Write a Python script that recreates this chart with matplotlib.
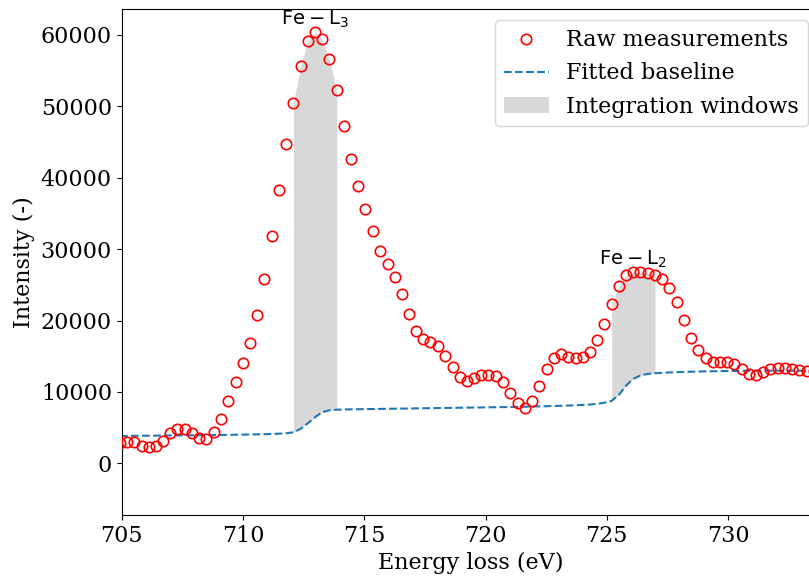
import matplotlib
matplotlib.use("Agg")
import matplotlib.pyplot as plt
import numpy as np

plt.rcParams['font.family'] = ['DejaVu Serif']
plt.rcParams['font.size'] = 16

energy = [704.93, 705.23, 705.52, 705.83, 706.11, 706.42, 706.72, 707.00, 707.29, 707.60,
          707.90, 708.20, 708.49, 708.80, 709.10, 709.40, 709.70, 709.99, 710.29, 710.59,
          710.88, 711.19, 711.48, 711.78, 712.08, 712.38, 712.67, 712.97, 713.26, 713.56,
          713.87, 714.16, 714.46, 714.76, 715.05, 715.35, 715.66, 715.96, 716.25, 716.55,
          716.84, 717.14, 717.44, 717.73, 718.04, 718.34, 718.64, 718.93, 719.23, 719.53,
          719.82, 720.12, 720.43, 720.72, 721.02, 721.32, 721.61, 721.91, 722.21, 722.52,
          722.81, 723.11, 723.41, 723.71, 724.00, 724.31, 724.61, 724.90, 725.20, 725.50,
          725.80, 726.08, 726.38, 726.68, 726.99, 727.28, 727.58, 727.88, 728.19, 728.49,
          728.77, 729.08, 729.38, 729.68, 729.97, 730.26, 730.56, 730.85, 731.14, 731.44,
          731.74, 732.05, 732.34, 732.64, 732.93, 733.26, 733.55]

intensity = [2800, 3030, 2940, 2470, 2240, 2380, 3170, 4200, 4850, 4850,
             4290, 3590, 3450, 4340, 6250, 8770, 11430, 14050, 16900, 20730,
             25820, 31890, 38350, 44690, 50520, 55620, 59120, 60420, 59480, 56600,
             52250, 47300, 42630, 38890, 35600, 32600, 29790, 27960, 26060, 23680,
             20870, 18580, 17410, 16950, 16390, 15080, 13450, 12090, 11570, 11910,
             12330, 12410, 12270, 11390, 9890, 8450, 7790, 8730, 10870, 13210,
             14750, 15270, 14930, 14710, 14850, 15660, 17270, 19560, 22360, 24840,
             26340, 26840, 26800, 26660, 26420, 25820, 24560, 22560, 20030, 17600,
             15830, 14750, 14190, 14190, 14190, 13910, 13250, 12550, 12410, 12790,
             13170, 13350, 13350, 13210, 13070, 12970, 12900]

baseline = [3830, 3840, 3850, 3860, 3870, 3880, 3890, 3900, 3910, 3920,
            3930, 3940, 3950, 3960, 3975, 3990, 4005, 4020, 4040, 4060,
            4080, 4110, 4150, 4220, 4340, 4830, 5600, 6450, 7150, 7430,
            7510, 7540, 7560, 7575, 7590, 7605, 7620, 7635, 7650, 7665,
            7680, 7695, 7710, 7725, 7740, 7755, 7770, 7785, 7800, 7815,
            7830, 7845, 7860, 7875, 7890, 7910, 7930, 7950, 7975, 8000,
            8030, 8060, 8090, 8130, 8180, 8240, 8330, 8480, 8750, 9600,
            10900, 11800, 12300, 12520, 12620, 12680, 12730, 12770, 12800, 12830,
            12860, 12880, 12900, 12920, 12930, 12940, 12950, 12960, 12960, 12970,
            12970, 12970, 12970, 12970, 12970, 12970, 12970]

# integration windows (energy ranges, eV) and edge labels
windows = [(712.0, 713.9), (725.1, 727.0)]
edge_labels = [r'$\mathrm{Fe-L_3}$', r'$\mathrm{Fe-L_2}$']

E = np.array(energy)
I = np.array(intensity)
B = np.array(baseline)

fig = plt.figure(figsize=(8.09, 5.81), dpi=100)
ax = fig.add_axes([0.1504, 0.1136, 0.862, 0.8704])

ax.plot(E, I, 'o', mfc='none', mec='red', ms=7.5, mew=1.2, label='Raw measurements', zorder=3)
ax.plot(E, B, '--', color='#1f77b4', lw=1.5, label='Fitted baseline', zorder=2)

for i, (lo, hi) in enumerate(windows):
    mask = (E >= lo) & (E <= hi)
    ax.fill_between(E, B, I, where=mask, color='gray', alpha=0.3, lw=0,
                    label='Integration windows' if i == 0 else None, zorder=1)
    idx = np.argmax(np.where(mask, I, -np.inf))
    ax.text(E[idx], I[idx] + 300, edge_labels[i], ha='center', va='bottom',
            fontsize=14, family='DejaVu Sans')

ax.set_xlim(705, 733.75)
ax.set_ylim(-7240, 63600)
ax.set_xticks([705, 710, 715, 720, 725, 730])
ax.set_yticks([0, 10000, 20000, 30000, 40000, 50000, 60000])
ax.set_xlabel('Energy loss (eV)')
ax.set_ylabel('Intensity (-)')
ax.legend(loc='upper right')

fig.savefig('out.png', dpi=100)
